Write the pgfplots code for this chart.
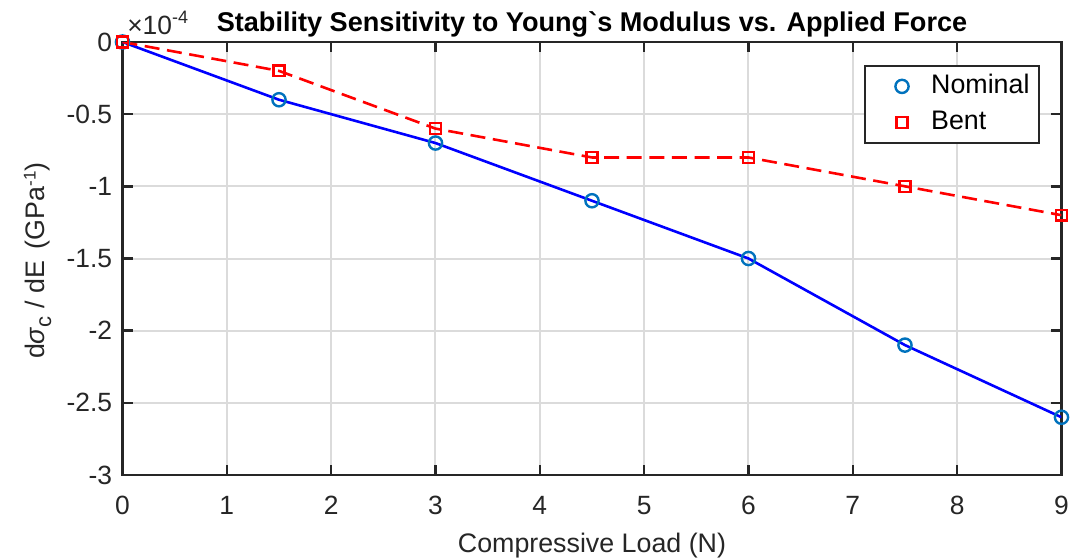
\documentclass[border=0pt]{standalone}
\usepackage{pgfplots}
\pgfplotsset{compat=1.18}
\usepackage{fontspec}
\setmainfont{Liberation Sans}
\definecolor{mblue}{RGB}{0,114,189}
\definecolor{axgray}{RGB}{38,38,38}

\pgfplotstableread{
x y
0 0
1.5 -0.4
3 -0.7
4.5 -1.1
6 -1.5
7.5 -2.1
9 -2.6
}\nominal

\pgfplotstableread{
x y
0 0
1.5 -0.2
3 -0.6
4.5 -0.8
6 -0.8
7.5 -1.0
9 -1.2
}\bent

\begin{document}
\begin{tikzpicture}
\begin{axis}[
    scale only axis,
    width=469.5pt, height=216.5pt,
    xmin=0, xmax=9, ymin=-3, ymax=0,
    xtick={0,...,9},
    ytick={-3,-2.5,-2,-1.5,-1,-0.5,0},
    yticklabels={-3,-2.5,-2,-1.5,-1,-0.5,0},
    /pgf/number format/assume math mode=true,
    tick align=inside,
    major tick length=5pt,
    tick style={axgray, line width=1.2pt},
    axis line style={axgray, line width=1.3pt},
    grid=major,
    grid style={black!14, line width=1pt},
    ticklabel style={font=\fontsize{13.2}{15}\selectfont, text=axgray},
    xticklabel style={anchor=base, inner sep=0pt, yshift=-19.5pt},
    yticklabel style={anchor=east, inner sep=0pt, xshift=-5pt},
    every axis title shift=0pt,
    title={\textbf{Stability Sensitivity to Young\textasciigrave s Modulus vs. Applied Force}},
    title style={font=\fontsize{13.55}{15}\selectfont, at={(axis description cs:0.5,1)},
        anchor=base, inner sep=0pt, yshift=5pt},
    xlabel={Compressive Load (N)},
    ylabel={d\textit{σ}\raisebox{-0.5ex}{\fontsize{11}{12}\selectfont c} / dE\ \,(GPa\raisebox{0.6ex}{\fontsize{8.5}{9}\selectfont -1})},
    label style={font=\fontsize{13.4}{15}\selectfont, text=axgray, inner sep=0pt},
    xlabel style={at={(axis description cs:0.5,0)}, anchor=base, yshift=-38.5pt},
    ylabel style={at={(axis description cs:-0.0835,0.495)}, anchor=base},
    legend image code/.code={%
        \path (0pt,0pt) (27.5pt,0pt);
        \draw[#1] plot coordinates {(13.5pt,0pt)};},
    legend style={at={(0.9766,0.9469)}, anchor=north east, draw=axgray, line width=1pt,
        font=\fontsize{13.4}{15}\selectfont, inner xsep=4.5pt, inner ysep=4pt,
        nodes={inner sep=0pt, text height=9.6pt, text depth=2.8pt},
        row sep=5.6pt},
    legend cell align=left,
]
\addplot[blue, line width=1.3pt, forget plot] table[x=x,y=y]{\nominal};
\addplot[red, line width=1.3pt, dash pattern=on 7.5pt off 3.8pt, forget plot] table[x=x,y=y]{\bent};
\addplot[only marks, mark=o, mark size=3.3pt, mblue, line width=1.2pt] table[x=x,y=y]{\nominal};
\addlegendentry{Nominal}
\addplot[only marks, mark=square, mark size=2.7pt, red, line width=1.2pt] table[x=x,y=y]{\bent};
\addlegendentry{Bent}
\end{axis}
\node[anchor=base west, font=\fontsize{13.2}{15}\selectfont, text=axgray, inner sep=0pt]
    at ([xshift=2.2pt,yshift=3.8pt]current axis.north west)
    {×10\raisebox{0.75ex}{\fontsize{9}{10}\selectfont -4}};
\pgfresetboundingbox
\path[use as bounding box] (current axis.south west) ++(-61.25pt,-41.5pt) rectangle ++(535pt,279pt);
\end{tikzpicture}
\end{document}
